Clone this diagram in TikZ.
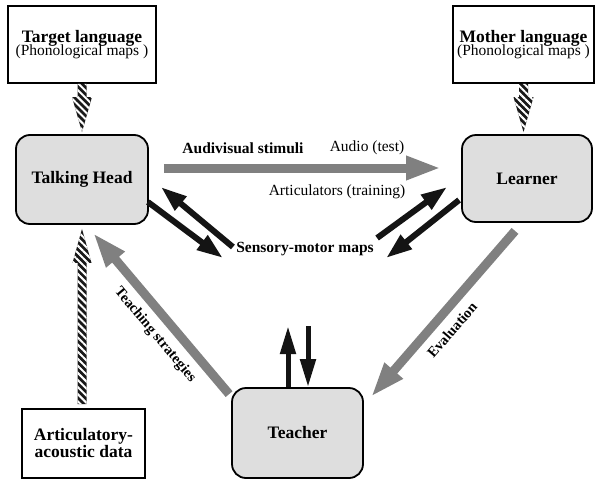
\documentclass[tikz,border=0pt]{standalone}
\usepackage{fontspec}
\setmainfont{Liberation Serif}
\usetikzlibrary{arrows.meta,calc,patterns.meta}
\begin{document}
\begin{tikzpicture}[x=1pt,y=-1pt,
  plainbox/.style={draw,line width=1.8pt,fill=white,inner sep=0pt,align=center},
  roundbox/.style={draw,line width=1.8pt,rounded corners=14pt,fill=black!13,inner sep=0pt,align=center},
  titlefont/.style={font=\fontsize{17.5}{19}\selectfont\bfseries},
  lbl/.style={font=\fontsize{15.5}{17}\selectfont},
  blbl/.style={font=\fontsize{15.5}{17}\selectfont\bfseries},
  rlbl/.style={font=\fontsize{14.5}{16}\selectfont\bfseries},
  grayarrow/.style={draw=black!50,line width=9pt,-{Triangle[length=35pt,width=22pt]}},
  blackarrow/.style={draw=black!92,line width=6pt,-{Triangle[length=26pt,width=17pt]}},
  thinarrow/.style={draw=black!92,line width=5pt,-{Triangle[length=28pt,width=15pt]}},
  stripearrow/.style={fill=black!90,postaction={pattern={Lines[angle=-45,distance=5pt,line width=2pt]},pattern color=white}}
]
\useasboundingbox (0,0) rectangle (596,479);

% boxes
\node[plainbox,minimum width=148pt,minimum height=77pt] (tl) at (82,44.5)
  {{\fontsize{17.5}{19}\selectfont\bfseries Target language}\\[-3pt]{\fontsize{15.5}{17}\selectfont (Phonological maps )}};
\node[plainbox,minimum width=141pt,minimum height=77pt] (ml) at (523.5,44.5)
  {{\fontsize{17.5}{19}\selectfont\bfseries Mother language}\\[-3pt]{\fontsize{15.5}{17}\selectfont (Phonological maps )}};
\node[roundbox,titlefont,minimum width=132pt,minimum height=89pt] (th) at (82,179.5) {Talking Head};
\node[roundbox,titlefont,minimum width=130pt,minimum height=87pt] (le) at (527,178.5) {Learner};
\node[roundbox,titlefont,minimum width=131pt,minimum height=90pt] (te) at (297.5,433) {Teacher};
\node[plainbox,titlefont,minimum width=123pt,minimum height=69pt] (ad) at (83.5,443.5) {Articulatory-\\[-2pt]acoustic data};

% striped arrows
\path[stripearrow] let \p1=(tl.south), \p2=(th.north) in
  (\x1-4.5,\y1) -- (\x1-4.5,\y2+37) -- (\x1-10,\y2+37) -- (\x1,\y2+2) -- (\x1+10,\y2+37) -- (\x1+4.5,\y2+37) -- (\x1+4.5,\y1) -- cycle;
\path[stripearrow] let \p1=(ml.south), \p2=(le.north) in
  (\x1-4.5,\y1) -- (\x1-4.5,\y2+37) -- (\x1-10,\y2+37) -- (\x1,\y2+2) -- (\x1+10,\y2+37) -- (\x1+4.5,\y2+37) -- (\x1+4.5,\y1) -- cycle;
\path[stripearrow] let \p1=($(ad.north)+(-1.5,-4)$), \p2=($(th.south)+(0,4)$) in
  (\x1-4.5,\y1) -- (\x1-4.5,\y2-34) -- (\x1-9.5,\y2-34) -- (\x1,\y2) -- (\x1+9.5,\y2-34) -- (\x1+4.5,\y2-34) -- (\x1+4.5,\y1) -- cycle;

% gray arrows
\draw[grayarrow] ($(th.east)+(15,-11.5)$) -- ($(le.west)+(-20,-10.5)$);
\draw[grayarrow] ($(te.north west)+(-2,7)$) -- ($(th.south)+(11,8)$);
\draw[grayarrow] ($(le.south)+(-12,8)$) -- ($(te.east)+(7,-36)$);

% black arrows
\draw[blackarrow] ($(th.east)+(84,67.5)$) -- ($(th.east)+(12,7.5)$);
\draw[blackarrow] ($(th.east)+(-1,22.5)$) -- ($(th.east)+(74,78.5)$);
\draw[blackarrow] ($(le.west)+(-84,59.5)$) -- ($(le.west)+(-14,8.5)$);
\draw[blackarrow] ($(le.west)+(-2,21.5)$) -- ($(le.west)+(-75,79.5)$);
\draw[thinarrow] ($(te.north)+(-9.5,0)$) -- ($(te.north)+(-9.5,-61)$);
\draw[thinarrow] ($(te.north)+(10.5,-61)$) -- ($(te.north)+(10.5,0)$);

% labels
\node[blbl] (av) at (243,148) {Audivisual stimuli};
\node[lbl] (au) at (367,148) {Audio (test)};
\node[lbl] (ar) at (337,192) {Articulators (training)};
\node[blbl] (sm) at (305,249) {Sensory-motor maps};
\node[rlbl,rotate=-50] (ts) at (155,335) {Teaching strategies};
\node[rlbl,rotate=49] (ev) at (452,330) {Evaluation};
\end{tikzpicture}
\end{document}
